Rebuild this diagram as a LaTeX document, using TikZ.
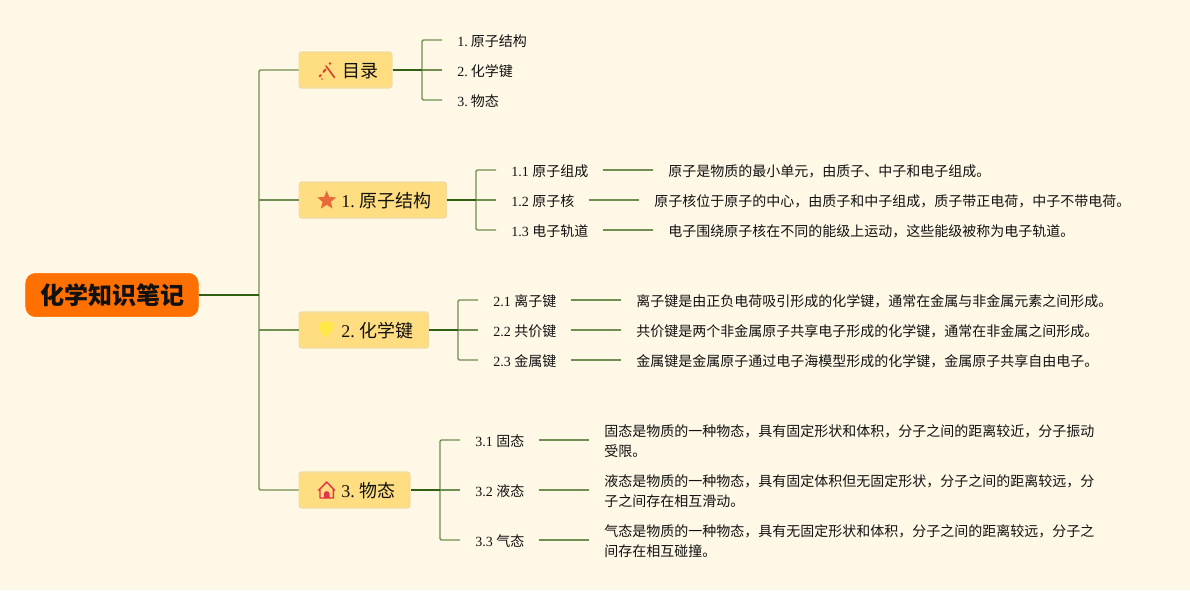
\documentclass[tikz,border=0pt]{standalone}
\usepackage{fontspec}
\setmainfont{Liberation Serif}
\newfontfamily\cjk{Noto Sans CJK SC}
\newcommand{\zh}[1]{{\cjk #1}}
\usetikzlibrary{shapes.geometric}
\definecolor{bgc}{HTML}{FFF8E6}
\definecolor{boxc}{HTML}{FFDD80}
\definecolor{boxe}{HTML}{EEDCA6}
\definecolor{rootc}{HTML}{FF7000}
\definecolor{darkl}{HTML}{2F5F10}
\definecolor{lightl}{HTML}{6F8F50}
\definecolor{ink}{HTML}{111111}
\definecolor{wandc}{HTML}{D9402A}
\definecolor{starc}{HTML}{E8693A}
\definecolor{gemc}{HTML}{FFEC3D}
\definecolor{housec}{HTML}{E0354A}
\tikzset{
  x=0.75pt,y=-0.75pt,
  rootbox/.style={fill=rootc,draw=rootc,rounded corners=7.5pt,minimum width=129.5pt,minimum height=32.5pt,inner sep=0pt,font=\cjk\fontsize{18pt}{20pt}\selectfont\bfseries,text=ink},
  mainbox/.style={fill=boxc,draw=boxe,line width=1pt,rounded corners=2pt,minimum height=27pt,inner sep=0pt,anchor=west},
  maintext/.style={anchor=west,inner sep=0pt,font=\fontsize{13.5pt}{16pt}\selectfont,text=ink},
  leaf/.style={anchor=west,inner xsep=11.25pt,inner ysep=0pt,font=\fontsize{10.5pt}{15pt}\selectfont,text=ink},
  desc/.style={anchor=west,inner xsep=11.25pt,inner ysep=0pt,align=left,font=\fontsize{10.5pt}{15pt}\selectfont,text=ink},
  trunk/.style={draw=lightl,line width=1.1pt},
  fork/.style={draw=darkl,line width=1.6pt},
  twig/.style={draw=lightl,line width=1.1pt},
}
\begin{document}
\begin{tikzpicture}
\fill[bgc] (0,0) rectangle (1190,590);
\useasboundingbox (0,0) rectangle (1190,590);

\node[rootbox] (root) at (112,295) {\hspace*{1.5pt}化学知识笔记};

\node[mainbox,minimum width=69.5pt] (b0) at (298.5,70) {};
\node[mainbox,minimum width=110.5pt] (b1) at (298.5,200) {};
\node[mainbox,minimum width=97pt] (b2) at (298.5,330) {};
\node[mainbox,minimum width=83pt] (b3) at (298.5,490) {};
\node[maintext] (t0) at (342,71) {\zh{目录}};
\node[maintext] (t1) at (341,201) {1.\hspace{3.2pt}\zh{原子结构}};
\node[maintext] (t2) at (341,331) {2.\hspace{3.2pt}\zh{化学键}};
\node[maintext] (t3) at (341,491) {3.\hspace{3.2pt}\zh{物态}};

% icons
\draw[wandc,line width=1.2pt,line cap=round] (326,66) -- (334.5,77.5);
\draw[wandc,line width=1.5pt,line cap=round] (319.5,76.5) -- (321,75) (323.5,72) -- (325.5,69.5);
\fill[wandc] (330,63.5) circle (1.3) (322,79) circle (0.9);
\node[star,star points=5,star point ratio=2.3,fill=starc,inner sep=0pt,minimum size=15pt] (i1) at (326.7,200.5) {};
\fill[gemc,opacity=.85,rounded corners=1.5pt] (317.3,326.5) -- (321,321.7) -- (331.5,321.7) -- (335,326.5) -- (326.2,338.3) -- cycle;
\draw[housec,line width=1.1pt,line join=round] (318.5,490.5) -- (326.7,482) -- (334.8,490.5) (320,488.5) -- (320,498) -- (333.3,498) -- (333.3,488.5);
\fill[housec] (323.8,498) -- (323.8,494) arc (180:360:2.9) -- (329.6,498) -- cycle;

% level 1 leaves
\node[leaf] (l01) at (442,41) {1.\hspace{2.4pt}\zh{原子结构}};
\node[leaf] (l02) at (442,71) {2.\hspace{2.4pt}\zh{化学键}};
\node[leaf] (l03) at (442,101) {3.\hspace{2.4pt}\zh{物态}};

\node[leaf] (l11) at (496,171) {1.1 \zh{原子组成}};
\node[leaf] (l12) at (496,201) {1.2 \zh{原子核}};
\node[leaf] (l13) at (496,231) {1.3 \zh{电子轨道}};
\node[desc] (d11) at (653,171) {\zh{原子是物质的最小单元，由质子、中子和电子组成。}};
\node[desc] (d12) at (639,201) {\zh{原子核位于原子的中心，由质子和中子组成，质子带正电荷，中子不带电荷。}};
\node[desc] (d13) at (653,231) {\zh{电子围绕原子核在不同的能级上运动，这些能级被称为电子轨道。}};

\node[leaf] (l21) at (478,301) {2.1 \zh{离子键}};
\node[leaf] (l22) at (478,331) {2.2 \zh{共价键}};
\node[leaf] (l23) at (478,361) {2.3 \zh{金属键}};
\node[desc] (d21) at (621,301) {\zh{离子键是由正负电荷吸引形成的化学键，通常在金属与非金属元素之间形成。}};
\node[desc] (d22) at (621,331) {\zh{共价键是两个非金属原子共享电子形成的化学键，通常在非金属之间形成。}};
\node[desc] (d23) at (621,361) {\zh{金属键是金属原子通过电子海模型形成的化学键，金属原子共享自由电子。}};

\node[leaf] (l31) at (460,441) {3.1 \zh{固态}};
\node[leaf] (l32) at (460,491) {3.2 \zh{液态}};
\node[leaf] (l33) at (460,541) {3.3 \zh{气态}};
\node[desc] (d31) at (589,441) {\zh{固态是物质的一种物态，具有固定形状和体积，分子之间的距离较近，分子振动}\\\zh{受限。}};
\node[desc] (d32) at (589,491) {\zh{液态是物质的一种物态，具有固定体积但无固定形状，分子之间的距离较远，分}\\\zh{子之间存在相互滑动。}};
\node[desc] (d33) at (589,541) {\zh{气态是物质的一种物态，具有无固定形状和体积，分子之间的距离较远，分子之}\\\zh{间存在相互碰撞。}};

% trunk
\coordinate (tk) at (259,295);
\coordinate (f0) at (422,70);
\coordinate (f1) at (476,200);
\coordinate (f2) at (458,330);
\coordinate (f3) at (440,490);
\draw[trunk,rounded corners=1pt] (tk) |- (b0.west);
\draw[trunk,rounded corners=1pt] (tk) |- (b3.west);
\draw[trunk] (259,200) -- (b1.west);
\draw[trunk] (259,330) -- (b2.west);
\draw[fork] (root.east) -- (tk);

\foreach \f/\b/\a/\m/\c in {f0/b0/l01/l02/l03,f1/b1/l11/l12/l13,f2/b2/l21/l22/l23,f3/b3/l31/l32/l33}{
  \draw[twig,rounded corners=1pt] (\f) |- ([yshift=0.75pt]\a.west);
  \draw[twig,rounded corners=1pt] (\f) |- ([yshift=0.75pt]\c.west);
  \draw[twig] (\f) -- ([yshift=0.75pt]\m.west);
  \draw[fork] (\b.east) -- (\f);
}
\foreach \a/\d in {l11/d11,l12/d12,l13/d13,l21/d21,l22/d22,l23/d23,l31/d31,l32/d32,l33/d33}{
  \draw[twig] ([xshift=-0.75pt,yshift=0.75pt]\a.east) -- ([yshift=0.75pt]\d.west);
}
\end{tikzpicture}
\end{document}
